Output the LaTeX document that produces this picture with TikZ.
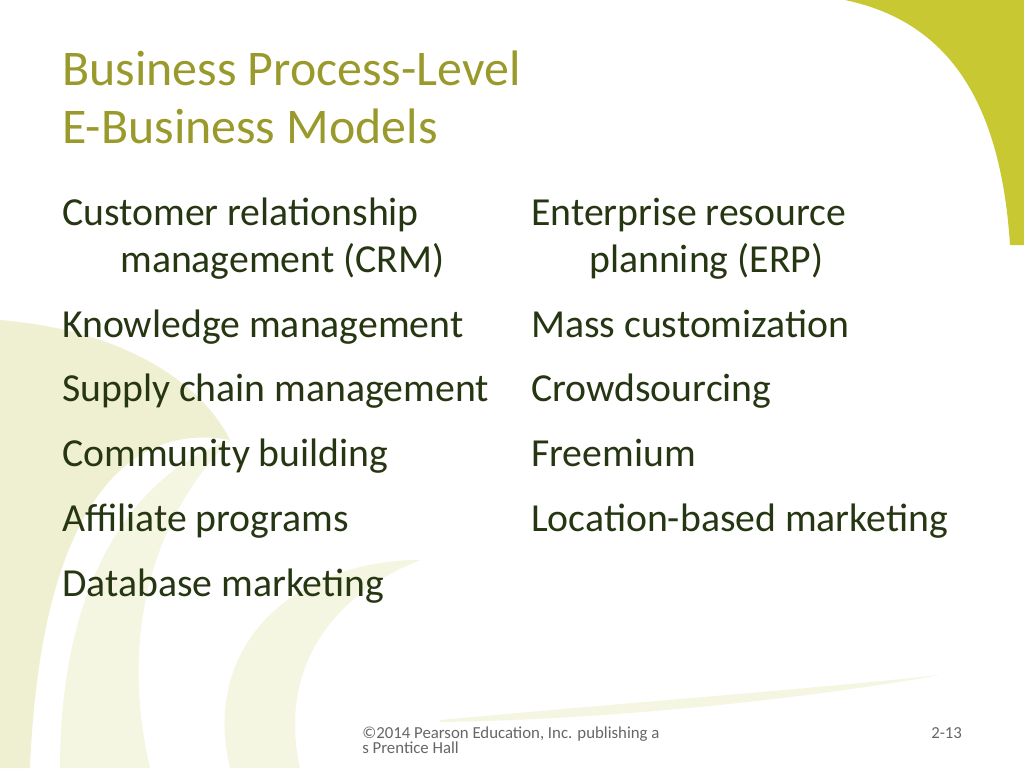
\documentclass[tikz,border=0pt]{standalone}
\usepackage{fontspec}
\setmainfont{Carlito}
\begin{document}
\begin{tikzpicture}[x=0.75pt,y=-0.75pt,
  body/.style={anchor=base west,inner sep=0,text=bodyc,font=\fontsize{29.8}{34}\selectfont},
  ttl/.style={anchor=base west,inner sep=0,text=titlec,font=\fontsize{37.4}{42}\selectfont},
  foot/.style={anchor=base west,inner sep=0,text=gray!80!black,font=\fontsize{12.6}{14}\selectfont,align=left}]
\definecolor{bodyc}{HTML}{263612}
\definecolor{titlec}{HTML}{9A9A2C}
\definecolor{accent}{HTML}{C8C832}
\definecolor{pale}{HTML}{EFF0D2}
\definecolor{pale2}{HTML}{F5F6E2}
\useasboundingbox (0,0) rectangle (1024,768);
\fill[white] (0,0) rectangle (1024,768);
% top right shape
\fill[accent] (845,0) .. controls (940,20) and (1000,90) .. (1010,245) -- (1024,245) -- (1024,0) -- cycle;
% left swooshes
\fill[pale] (0,320) .. controls (120,330) and (200,380) .. (230,440) .. controls (120,420) and (40,520) .. (30,768) -- (0,768) -- cycle;
\fill[pale2] (60,768) .. controls (60,600) and (120,480) .. (230,440) .. controls (150,520) and (120,640) .. (150,768) -- cycle;
\fill[pale2] (230,768) .. controls (200,640) and (300,560) .. (420,560) .. controls (320,600) and (280,680) .. (300,768) -- cycle;
\fill[pale2] (440,720) .. controls (600,705) and (800,690) .. (940,675) .. controls (800,700) and (600,720) .. (440,722) -- cycle;
% title
\node[ttl] (t1) at (62,85) {Business Process-Level};
\node[ttl] (t2) at (62,143) {E-Business Models};
% left column
\node[body] (l1) at (62,225) {Customer relationship};
\node[body] (l1b) at (120,272) {management (CRM)};
\node[body] (l2) at (62,337) {Knowledge management};
\node[body] (l3) at (62,401) {Supply chain management};
\node[body] (l4) at (62,466) {Community building};
\node[body] (l5) at (62,531) {Affiliate programs};
\node[body] (l6) at (62,596) {Database marketing};
% right column
\node[body] (r1) at (531,225) {Enterprise resource};
\node[body] (r1b) at (589,272) {planning (ERP)};
\node[body] (r2) at (531,337) {Mass customization};
\node[body] (r3) at (531,401) {Crowdsourcing};
\node[body] (r4) at (531,466) {Freemium};
\node[body] (r5) at (531,531) {Location-based marketing};
% footer
\node[foot] (f1) at (362,738) {©2014 Pearson Education, Inc. publishing a};
\node[foot] (f2) at (362,753) {s Prentice Hall};
\node[foot] (pg) at (931,738) {2-13};
\end{tikzpicture}
\end{document}
